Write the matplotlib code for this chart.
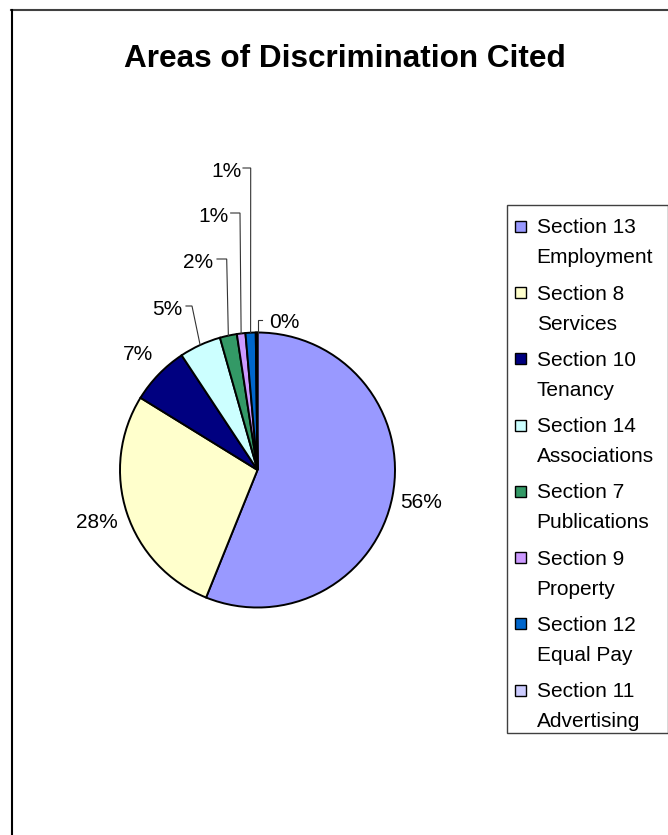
import numpy as np
import matplotlib.pyplot as plt
from matplotlib.patches import Rectangle

plt.rcParams['font.family'] = ['Liberation Sans', 'DejaVu Sans']

# data
sections = ["Section 13", "Section 8", "Section 10", "Section 14",
            "Section 7", "Section 9", "Section 12", "Section 11"]
areas = ["Employment", "Services", "Tenancy", "Associations",
         "Publications", "Property", "Equal Pay", "Advertising"]
shares = [56.1, 27.7, 6.9, 4.9, 2.0, 1.0, 1.2, 0.2]
colors = ["#9999FF", "#FFFFCC", "#000080", "#CCFFFF",
          "#339966", "#CC99FF", "#0066CC", "#CCCCFF"]

W, H = 668, 835


def Y(y):
    # pixel row (from top) -> axes y (from bottom)
    return H - y


fig = plt.figure(figsize=(W / 100, H / 100), dpi=100)
ax = fig.add_axes([0, 0, 1, 1])

cx, cy, r = 257.5, 470, 137.5
wedges, _ = ax.pie(shares, colors=colors, startangle=90, counterclock=False,
                   center=(cx, Y(cy)), radius=r,
                   wedgeprops=dict(edgecolor="black", linewidth=1.4))
ax.set_xlim(0, W)
ax.set_ylim(0, H)
ax.axis("off")

# label layout: left x, baseline y (pixels from top)
label_pos = [(400, 508.5), (76, 528.5), (122.7, 360), (151.7, 315),
             (183, 268), (198, 222), (211, 177), (269, 328)]
# leader lines: (start x, elbow x) for labels that need them
leaders = {3: (186, 192), 4: (217, 226.7), 5: (230.7, 240), 6: (243, 250.7)}

total = sum(shares)
for i, (w, v) in enumerate(zip(wedges, shares)):
    lx, ly = label_pos[i]
    ax.text(lx, Y(ly), f"{round(100 * v / total)}%", fontsize=15,
            ha="left", va="baseline")
    mid = np.deg2rad((w.theta1 + w.theta2) / 2)
    ex, ey = cx + r * np.cos(mid), Y(cy) + r * np.sin(mid)
    if i in leaders:
        sx, bx = leaders[i]
        yy = Y(ly - 9)
        ax.plot([sx, bx, ex], [yy, yy, ey], color="#333333", lw=0.8,
                solid_joinstyle="miter")
    elif i == 7:
        yy = Y(ly - 8)
        ax.plot([ex + 1, ex + 1, ex + 5], [ey, yy, yy], color="#333333",
                lw=0.8, solid_joinstyle="miter")

ax.text(344.5, Y(66.7), "Areas of Discrimination Cited", fontsize=22.7,
        fontweight="bold", ha="center", va="baseline")

# legend
ax.add_patch(Rectangle((507, Y(733)), 161, 733 - 205, facecolor="white",
                       edgecolor="#404040", lw=1))
for i, (s, a, c) in enumerate(zip(sections, areas, colors)):
    base = 233.3 + 66.3 * i
    ax.add_patch(Rectangle((515, Y(base - 1.6)), 11, 11, facecolor=c,
                           edgecolor="black", lw=1))
    ax.text(536.7, Y(base), s, fontsize=15, ha="left", va="baseline")
    ax.text(536.7, Y(base + 30), a, fontsize=15, ha="left", va="baseline")

# chart area border (top and left only visible)
ax.plot([11, W], [Y(10), Y(10)], color="#404040", lw=1.5)
ax.plot([11.5, 11.5], [Y(10), 0], color="black", lw=1.5)

fig.savefig("out.png", dpi=100)
